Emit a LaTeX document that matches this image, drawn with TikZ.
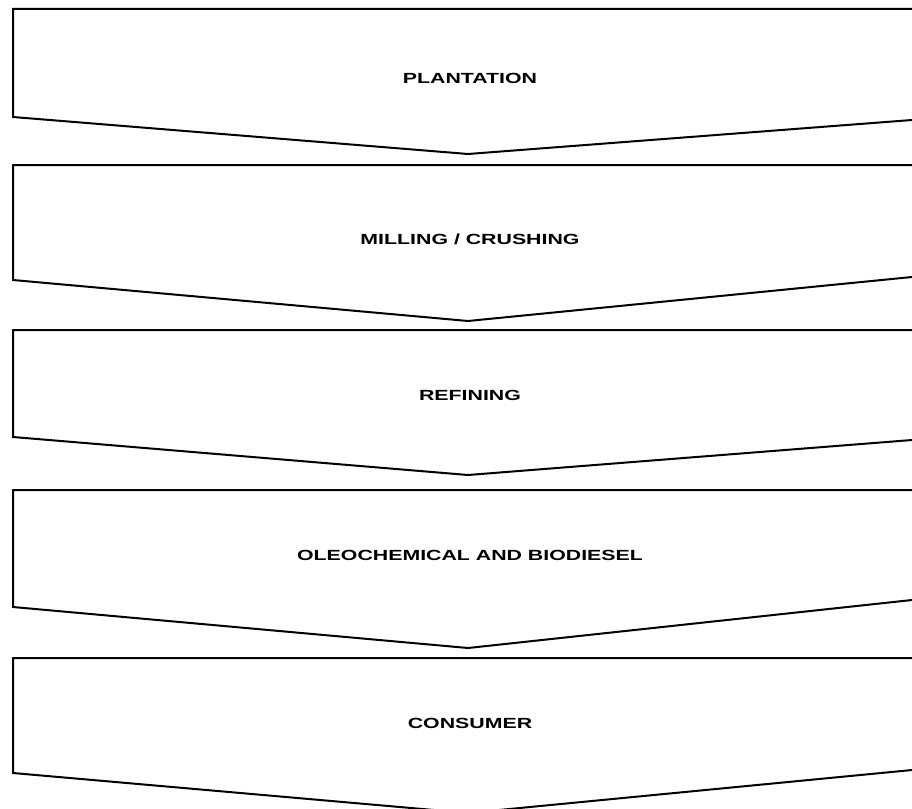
\documentclass[tikz,border=0pt]{standalone}
\usepackage{fontspec}
\setmainfont{Liberation Sans}
\usetikzlibrary{calc,positioning}
\tikzset{stagebox/.style={line width=2pt,line join=miter}}
\tikzset{stagetext/.style={font=\bfseries\fontsize{14.7}{17}\selectfont,inner sep=0pt}}

\begin{document}
\begin{tikzpicture}[x=1pt,y=-1pt]
  \useasboundingbox (0,0) rectangle (912,808);
  \clip (0,0) rectangle (912,808);
  % top / left corner / tip / right edge / text
  \foreach \name/\yt/\yl/\yp/\yr/\ty/\txt in {
      plant/9/117/154/120/78/PLANTATION,
      mill/165/280/321/277/239/{MILLING / CRUSHING},
      refine/330/437/475/440/395/REFINING,
      oleo/490/607/648/600/555/{OLEOCHEMICAL AND BIODIESEL},
      cons/658/773/813/770/723/CONSUMER}{
    \coordinate (\name-tip) at (468,\yp);
    \coordinate (\name-r) at ($(\name-tip)!1.1!(912,\yr)$);
    \coordinate (\name-tr) at (\name-r |- 0,\yt);
    \draw[stagebox] (13,\yt) -- (\name-tr) -- (\name-r)
      -- (\name-tip) -- (13,\yl) -- cycle;
    \node[stagetext] (\name) at (470,\ty) {\scalebox{1.45}[1]{\txt}};
  }
\end{tikzpicture}
\end{document}
